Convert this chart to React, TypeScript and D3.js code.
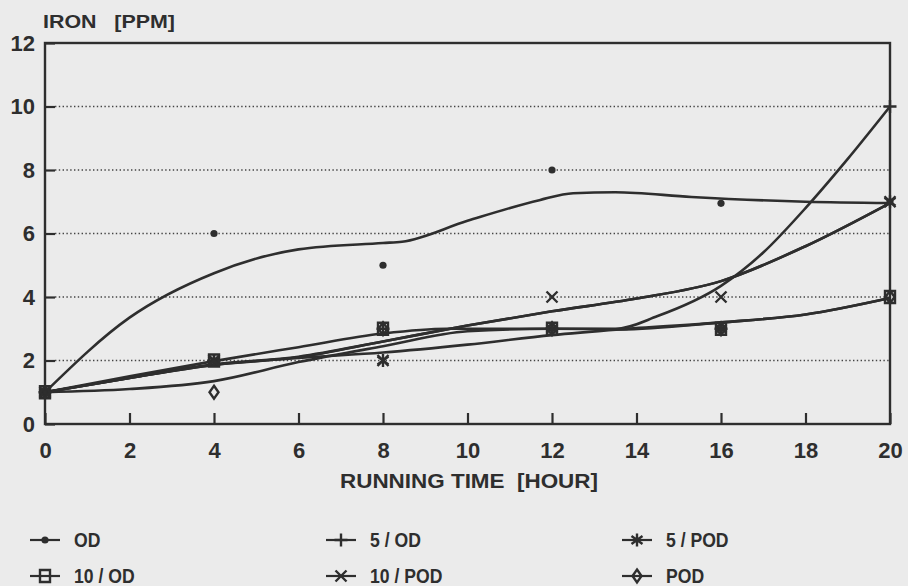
import React, { useEffect, useRef } from "react";
import * as d3 from "d3";

// ---------- data ----------
const hours = [0, 4, 8, 12, 16, 20];
const odValues = [1, 6, 5, 8, 6.95, 7];
const od5Values = [1, 2, 3, 3, 3, 10];
const pod5Values = [1, 2, 2, 3, 3, 7];
const od10Values = [1, 2, 3, 3, 3, 4];
const pod10Values = [1, 2, 2, 4, 4, 7];
const podValues = [1, 1, 3, 3, 3, 4];

// fitted curves [hour, ppm]
const odFit = [[0, 1], [2, 3.35], [4, 4.75], [6, 5.5], [8, 5.7], [8.45, 5.74], [10, 6.4], [11.7, 7.05], [12.5, 7.27], [13.5, 7.3], [15.3, 7.15], [18, 7.0], [20, 6.96]];
const od5Fit = [[0, 1], [2, 1.1], [4, 1.35], [6, 1.95], [8, 2.45], [10, 2.92], [12, 3.0], [13.5, 3.0], [14.5, 3.4], [16, 4.35], [17, 5.4], [18, 6.8], [19, 8.35], [20, 10]];
const od10Fit = [[0, 1], [2, 1.5], [4, 1.98], [6, 2.42], [8, 2.85], [9.5, 3.0], [12, 3.0], [13.6, 2.98], [16, 3.2], [18, 3.45], [20, 3.97]];
const podFit = [[0, 1], [2, 1.45], [4, 1.86], [6, 2.08], [8, 2.25], [10, 2.5], [12, 2.8], [13.6, 2.98], [16, 3.2], [18, 3.45], [20, 3.97]];
const pod10Fit = [[0, 1], [2, 1.45], [4, 1.86], [6, 2.1], [8, 2.6], [10, 3.1], [12, 3.55], [14, 3.95], [16, 4.5], [18, 5.6], [20, 6.96]];
const pod5Fit = [[0, 1], [2, 1.45], [4, 1.88], [6, 2.12], [8, 2.6], [10, 3.1], [12, 3.55], [14, 3.95], [16, 4.5], [18, 5.6], [20, 6.96]];

const xTicks = [0, 2, 4, 6, 8, 10, 12, 14, 16, 18, 20];
const yTicks = [0, 2, 4, 6, 8, 10, 12];
const yTitle = "IRON   [PPM]";
const xTitle = "RUNNING TIME  [HOUR]";

type Shape = "dot" | "plus" | "star" | "square" | "cross" | "diamond";
const seriesNames = ["OD", "5 / OD", "5 / POD", "10 / OD", "10 / POD", "POD"];
const seriesShapes: Shape[] = ["dot", "plus", "star", "square", "cross", "diamond"];
const seriesValues = [odValues, od5Values, pod5Values, od10Values, pod10Values, podValues];
const seriesFits = [odFit, od5Fit, pod5Fit, od10Fit, pod10Fit, podFit];

// ---------- styling ----------
const W = 908;
const H = 586;
const INK = "#2e2e2e";
const BG = "#ebebeb";
const FONT = "'Liberation Sans', Arial, Helvetica, sans-serif";

function markerPath(shape: Shape): string {
  switch (shape) {
    case "plus":
      return "M-6.5,0H6.5M0,-6.5V6.5";
    case "cross":
      return "M-5.5,-5.5L5.5,5.5M-5.5,5.5L5.5,-5.5";
    case "star":
      return "M0,-6.5V6.5M-5.5,-4L5.5,4M-5.5,4L5.5,-4";
    case "square":
      return "M-5,-6H5V6H-5Z";
    case "diamond":
      return "M0,-6.5L4.5,0L0,6.5L-4.5,0Z";
    default:
      return "";
  }
}

function Marker({ shape, cx, cy }: { shape: Shape; cx: number; cy: number }) {
  if (shape === "dot") return <circle cx={cx} cy={cy} r={3.6} fill={INK} />;
  return (
    <path
      d={markerPath(shape)}
      transform={`translate(${cx},${cy})`}
      fill="none"
      stroke={INK}
      strokeWidth={2.4}
    />
  );
}

export default function App() {
  const xAxisRef = useRef<SVGGElement>(null);
  const yAxisRef = useRef<SVGGElement>(null);

  const x = d3.scaleLinear().domain([0, 20]).range([45, 890]);
  const y = d3.scaleLinear().domain([0, 12]).range([424, 43]);

  const line = d3
    .line<number[]>()
    .x((d) => x(d[0]))
    .y((d) => y(d[1]))
    .curve(d3.curveMonotoneX);

  useEffect(() => {
    document.body.style.margin = "0";
    const gx = d3.select(xAxisRef.current!);
    gx.call(
      d3.axisBottom(x).tickValues(xTicks).tickSizeInner(-11).tickSizeOuter(0).tickPadding(18)
    );
    gx.select(".domain").remove();
    gx.selectAll(".tick line").attr("stroke", INK).attr("stroke-width", 2.2);
    gx.selectAll(".tick text")
      .attr("fill", INK)
      .attr("font-size", 22)
      .attr("font-weight", "bold")
      .attr("font-family", FONT);

    const gy = d3.select(yAxisRef.current!);
    gy.call(
      d3.axisLeft(y).tickValues(yTicks).tickSizeInner(-10).tickSizeOuter(0).tickPadding(10)
    );
    gy.select(".domain").remove();
    gy.selectAll(".tick line").attr("stroke", INK).attr("stroke-width", 2.2);
    gy.selectAll(".tick text")
      .attr("fill", INK)
      .attr("font-size", 22)
      .attr("font-weight", "bold")
      .attr("font-family", FONT);
  }, []);

  const legendCols = [30, 326, 622];
  const legendRows = [540, 576];

  return (
    <svg
      width={W}
      height={H}
      style={{ position: "absolute", left: 0, top: 0, background: BG }}
    >
      <rect x={0} y={0} width={W} height={H} fill={BG} />
      {/* gridlines */}
      {yTicks
        .filter((t) => t > 0 && t < 12)
        .map((t) => (
          <line
            key={t}
            x1={x(0) + 10}
            x2={x(20)}
            y1={y(t)}
            y2={y(t)}
            stroke="#444"
            strokeWidth={1.3}
            strokeDasharray="1.4,2.4"
          />
        ))}
      {/* frame */}
      <rect
        x={x(0)}
        y={y(12)}
        width={x(20) - x(0)}
        height={y(0) - y(12)}
        fill="none"
        stroke={INK}
        strokeWidth={2.4}
      />
      <g ref={xAxisRef} transform={`translate(0,${y(0)})`} />
      <g ref={yAxisRef} transform={`translate(${x(0)},0)`} />

      {/* fitted curves */}
      {seriesFits.map((fit, i) => (
        <path
          key={"fit" + i}
          d={line(fit) || ""}
          fill="none"
          stroke={INK}
          strokeWidth={2.6}
          strokeLinejoin="round"
        />
      ))}
      {/* markers */}
      {seriesValues.map((vals, i) =>
        vals.map((v, j) => (
          <Marker key={`m${i}-${j}`} shape={seriesShapes[i]} cx={x(hours[j])} cy={y(v)} />
        ))
      )}

      {/* titles */}
      <text
        x={43}
        y={28}
        fill={INK}
        fontFamily={FONT}
        fontWeight="bold"
        fontSize={19}
        textLength={132}
        lengthAdjust="spacingAndGlyphs"
        style={{ whiteSpace: "pre" }}
      >
        {yTitle}
      </text>
      <text
        x={340}
        y={488}
        fill={INK}
        fontFamily={FONT}
        fontWeight="bold"
        fontSize={21}
        textLength={258}
        lengthAdjust="spacingAndGlyphs"
        style={{ whiteSpace: "pre" }}
      >
        {xTitle}
      </text>

      {/* legend */}
      {seriesNames.map((name, i) => {
        const col = i % 3;
        const row = Math.floor(i / 3);
        const x0 = legendCols[col];
        const cy = legendRows[row];
        return (
          <g key={"leg" + i}>
            <line x1={x0} x2={x0 + 30} y1={cy} y2={cy} stroke={INK} strokeWidth={2.2} />
            <Marker shape={seriesShapes[i]} cx={x0 + 15} cy={cy} />
            <text
              transform={`translate(${x0 + 44},${cy + 7}) scale(0.88,1)`}
              fill={INK}
              fontFamily={FONT}
              fontWeight="bold"
              fontSize={20}
              style={{ whiteSpace: "pre" }}
            >
              {name}
            </text>
          </g>
        );
      })}
    </svg>
  );
}
